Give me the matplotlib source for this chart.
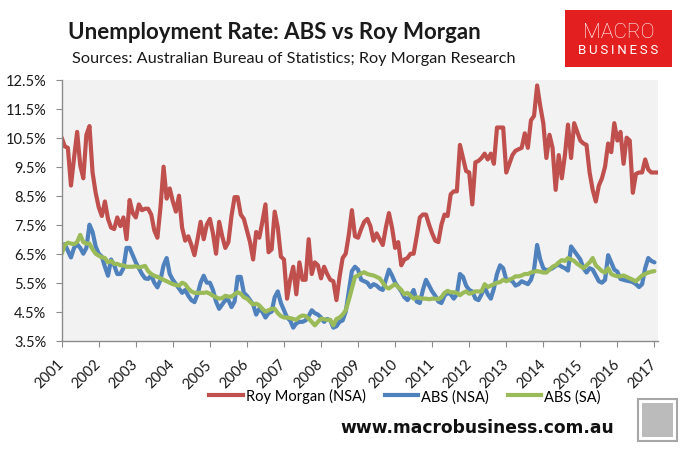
import numpy as np
import matplotlib
matplotlib.use("Agg")
import matplotlib.pyplot as plt
from matplotlib.patches import Rectangle
from matplotlib.lines import Line2D

plt.rcParams['font.family'] = ['Lato', 'DejaVu Sans']

# ---------------- data (monthly, Jan 2001 onward) ----------------
years = list(range(2001, 2018))
year_labels = [str(y) for y in years]

roy_morgan = [
    10.5, 10.2, 10.15, 8.85, 9.8, 10.7, 9.55, 9.1, 10.6, 10.9, 9.3, 8.6,      # 2001
    8.1, 7.8, 8.3, 7.7, 7.4, 7.35, 7.75, 7.45, 7.75, 7.0, 8.35, 7.9,          # 2002
    7.75, 8.2, 8.0, 8.05, 8.05, 7.85, 7.3, 7.05, 8.1, 9.5, 8.4, 8.75,         # 2003
    8.3, 7.95, 8.5, 7.4, 6.95, 7.1, 6.8, 6.45, 7.0, 7.6, 7.0, 7.5,            # 2004
    7.7, 7.2, 6.5, 7.6, 7.1, 6.7, 6.9, 7.8, 8.45, 8.45, 7.85, 7.7,            # 2005
    7.3, 6.9, 6.3, 7.25, 7.05, 7.6, 8.2, 6.55, 6.65, 7.95, 7.4, 6.4,          # 2006
    6.3, 4.95, 5.6, 6.05, 5.1, 6.2, 5.6, 5.6, 7.0, 5.8, 6.2, 6.1,             # 2007
    5.65, 6.05, 5.8, 5.6, 5.55, 4.9, 5.7, 6.35, 6.5, 7.15, 8.0, 7.1,          # 2008
    7.05, 7.35, 7.6, 7.7, 7.45, 6.95, 7.2, 7.0, 6.8, 7.4, 7.9, 7.4,           # 2009
    6.7, 6.9, 6.1, 6.3, 6.35, 6.5, 6.5, 7.1, 7.75, 7.85, 7.85, 7.5,           # 2010
    7.2, 6.95, 6.9, 7.5, 7.85, 7.8, 8.55, 8.65, 8.65, 10.25, 9.8, 9.35,       # 2011
    9.3, 8.2, 9.65, 9.7, 9.8, 9.95, 9.75, 9.95, 9.6, 10.85, 10.85, 10.85,     # 2012
    9.3, 9.6, 9.9, 10.05, 10.1, 10.15, 10.65, 10.15, 11.1, 11.25, 12.3, 11.6, # 2013
    11.0, 9.8, 10.6, 10.15, 8.7, 9.9, 9.1, 9.9, 10.95, 9.8, 11.0, 10.7,       # 2014
    10.4, 10.3, 10.25, 9.3, 8.7, 8.3, 8.85, 9.1, 9.5, 10.3, 10.0, 11.0,       # 2015
    10.4, 10.7, 9.6, 10.5, 10.4, 8.6, 9.25, 9.3, 9.3, 9.75, 9.4, 9.3,         # 2016
    9.3, 9.3,                                                                 # 2017
]

abs_nsa = [
    6.77, 6.83, 6.6, 6.37, 6.7, 6.83, 6.7, 6.5, 6.7, 7.5, 7.25, 6.75,         # 2001
    6.5, 6.4, 6.05, 5.74, 6.3, 6.1, 5.8, 5.8, 6.0, 6.7, 6.7, 6.45,            # 2002
    6.2, 6.0, 5.8, 5.65, 5.63, 5.75, 5.5, 5.34, 5.6, 6.1, 6.35, 5.8,          # 2003
    5.6, 5.45, 5.3, 5.15, 5.25, 5.05, 4.9, 4.83, 5.1, 5.5, 5.74, 5.5,         # 2004
    5.5, 5.25, 4.85, 4.6, 4.75, 4.9, 4.9, 4.66, 4.85, 5.7, 5.7, 5.15,         # 2005
    5.05, 4.9, 4.75, 4.4, 4.6, 4.5, 4.3, 4.45, 4.5, 5.0, 5.2, 4.8,            # 2006
    4.55, 4.3, 4.2, 3.95, 4.1, 4.15, 4.15, 4.2, 4.35, 4.55, 4.45, 4.4,        # 2007
    4.3, 4.15, 4.25, 4.2, 3.95, 4.0, 4.15, 4.2, 4.5, 5.2, 5.9, 6.05,          # 2008
    5.95, 5.6, 5.55, 5.5, 5.35, 5.45, 5.4, 5.3, 5.25, 5.6, 5.95, 5.75,        # 2009
    5.5, 5.35, 5.2, 5.0, 4.9, 5.05, 5.25, 4.85, 4.8, 5.25, 5.6, 5.4,          # 2010
    5.2, 5.05, 4.85, 4.8, 5.05, 5.15, 5.1, 4.95, 5.1, 5.8, 5.7, 5.4,          # 2011
    5.25, 5.2, 4.95, 4.9, 5.1, 5.35, 5.1, 4.95, 5.3, 5.8, 6.1, 6.0,           # 2012
    5.6, 5.6, 5.55, 5.4, 5.45, 5.55, 5.5, 5.45, 5.6, 5.95, 6.8, 6.3,          # 2013
    6.0, 5.93, 5.95, 6.0, 6.08, 6.12, 6.05, 6.0, 5.92, 6.75, 6.6, 6.45,       # 2014
    6.3, 6.0, 5.85, 6.0, 5.95, 5.75, 5.55, 5.5, 5.6, 6.45, 6.2, 5.95,         # 2015
    5.88, 5.63, 5.6, 5.57, 5.55, 5.52, 5.45, 5.35, 5.45, 6.0, 6.35, 6.25,     # 2016
    6.2,                                                                      # 2017
]

abs_sa = [
    6.5, 6.8, 6.88, 6.85, 6.83, 6.9, 7.15, 6.9, 6.85, 6.85, 6.65, 6.5,        # 2001
    6.43, 6.38, 6.35, 6.2, 6.25, 6.15, 6.15, 6.1, 6.1, 6.05, 6.05, 6.05,      # 2002
    6.07, 6.03, 6.05, 6.08, 5.9, 5.8, 5.74, 5.7, 5.65, 5.6, 5.55, 5.5,        # 2003
    5.45, 5.42, 5.4, 5.5, 5.45, 5.3, 5.2, 5.15, 5.15, 5.15, 5.15, 5.17,       # 2004
    5.12, 5.05, 5.0, 4.95, 4.97, 5.05, 5.02, 5.02, 5.1, 5.17, 5.12, 5.0,      # 2005
    4.95, 4.85, 4.75, 4.78, 4.72, 4.6, 4.5, 4.55, 4.6, 4.6, 4.45, 4.35,       # 2006
    4.3, 4.3, 4.28, 4.25, 4.22, 4.32, 4.37, 4.35, 4.26, 4.15, 4.03, 4.15,     # 2007
    4.26, 4.24, 4.22, 4.22, 4.03, 4.25, 4.3, 4.4, 4.55, 4.9, 5.3, 5.7,        # 2008
    5.75, 5.82, 5.86, 5.8, 5.77, 5.75, 5.7, 5.65, 5.5, 5.35, 5.3, 5.38,       # 2009
    5.45, 5.35, 5.25, 5.1, 5.15, 5.05, 4.95, 5.0, 4.97, 4.95, 4.95, 4.93,     # 2010
    4.95, 4.95, 4.93, 5.0, 5.15, 5.22, 5.17, 5.17, 5.15, 5.07, 5.15, 5.2,     # 2011
    5.12, 5.15, 5.2, 5.2, 5.2, 5.45, 5.35, 5.4, 5.45, 5.5, 5.52, 5.6,         # 2012
    5.55, 5.6, 5.65, 5.72, 5.72, 5.75, 5.8, 5.8, 5.85, 5.88, 5.9, 5.88,       # 2013
    5.85, 5.85, 5.95, 6.05, 6.1, 6.2, 6.28, 6.25, 6.35, 6.3, 6.25, 6.15,      # 2014
    6.08, 6.0, 6.1, 6.2, 6.35, 6.1, 6.0, 5.9, 5.85, 6.0, 5.8, 5.75,           # 2015
    5.72, 5.72, 5.75, 5.7, 5.65, 5.6, 5.55, 5.65, 5.75, 5.8, 5.85, 5.88,      # 2016
    5.9,                                                                      # 2017
]

series_names = ["Roy Morgan (NSA)", "ABS (NSA)", "ABS (SA)"]
series_colors = ["#C0504D", "#4F81BD", "#9BBB59"]
y_ticks = [3.5, 4.5, 5.5, 6.5, 7.5, 8.5, 9.5, 10.5, 11.5, 12.5]

# ---------------- figure ----------------
fig = plt.figure(figsize=(6.84, 4.52), dpi=100)
ax = fig.add_axes([0.0902, 0.244, 0.872, 0.5775])
ax.set_facecolor("#F2F2F2")

for vals, name, col in zip([roy_morgan, abs_nsa, abs_sa], series_names, series_colors):
    ax.plot(np.arange(len(vals)), vals, color=col, lw=3.0, label=name,
            solid_joinstyle="round", solid_capstyle="round")

ax.set_xlim(0, 193.2)
ax.set_ylim(3.5, 12.5)
ax.set_yticks(y_ticks)
ax.set_yticklabels([f"{v:.1f}%" for v in y_ticks])
ax.set_xticks([12 * i for i in range(len(years))])
ax.set_xticklabels(year_labels, rotation=45, ha="right", va="center",
                   rotation_mode="anchor")

for s in ["top", "right"]:
    ax.spines[s].set_visible(False)
for s in ["left", "bottom"]:
    ax.spines[s].set_color("#8C8C8C")
    ax.spines[s].set_linewidth(1.0)
ax.tick_params(axis="y", direction="out", length=4, color="#8C8C8C",
               labelsize=10.5, labelcolor="#1A1A1A", pad=7)
ax.tick_params(axis="x", direction="out", length=4, color="#8C8C8C",
               labelsize=10.5, labelcolor="#1A1A1A", pad=11)

# titles
fig.text(0.1, 0.929, "Unemployment Rate: ABS vs Roy Morgan", fontsize=16,
         fontweight="bold", color="#1A1A1A", va="center", ha="left")
fig.text(0.105, 0.870, "Sources: Australian Bureau of Statistics; Roy Morgan Research",
         fontsize=11.7, color="#1A1A1A", va="center", ha="left")

# legend
handles = [Line2D([], [], color=c, lw=3.0) for c in series_colors]
fig.legend(handles, series_names, loc="center", bbox_to_anchor=(0.592, 0.122),
           ncol=3, frameon=False, fontsize=10.5, handlelength=2.3,
           handletextpad=0.2, columnspacing=1.3, borderpad=0)

# website
fig.text(0.698, 0.053, "www.macrobusiness.com.au", fontsize=12.3, fontweight="bold",
         family="DejaVu Sans", color="#111111", ha="center", va="center")

# MacroBusiness logo
logo = Rectangle((565 / 684, 1 - 68.3 / 452), 106.7 / 684, 57.3 / 452,
                 transform=fig.transFigure, facecolor="#E3201F", edgecolor="none")
fig.patches.append(logo)
fig.text(618.5 / 684, 1 - 32 / 452, "MACRO", fontsize=15, color="white",
         family="Roboto", fontweight="light", ha="center", va="center")
fig.text(618.5 / 684, 1 - 50.5 / 452, "B U S I N E S S".replace(" ", "\u2009"),
         fontsize=9.5, color="white", family=["Roboto", "DejaVu Sans"],
         ha="center", va="center")

# wolf badge (approximation)
badge = Rectangle((638 / 684, 1 - 442 / 452), 39 / 684, 42 / 452,
                  transform=fig.transFigure, facecolor="white",
                  edgecolor="#A6A6A6", lw=1.5)
fig.patches.append(badge)
inner = Rectangle((642 / 684, 1 - 438 / 452), 31 / 684, 34 / 452,
                  transform=fig.transFigure, facecolor="#9E9E9E",
                  edgecolor="none", alpha=0.7)
fig.patches.append(inner)

fig.savefig("out.png", dpi=100)
